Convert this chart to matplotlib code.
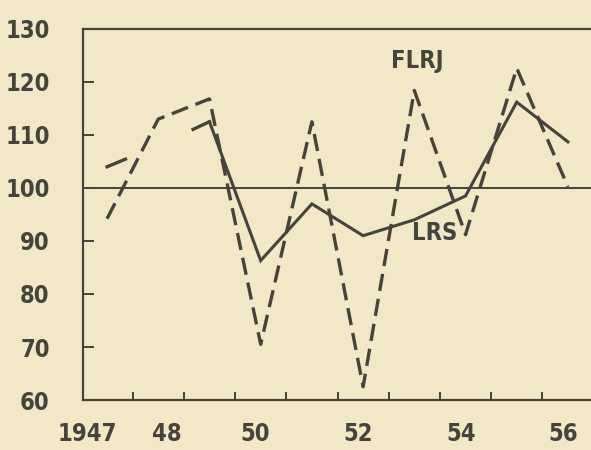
import numpy as np
import matplotlib
matplotlib.use("Agg")
import matplotlib.pyplot as plt
from matplotlib import font_manager

# values (index, basis = 100)
years = [1947, 1948, 1949, 1950, 1951, 1952, 1953, 1954, 1955, 1956]
flrj = [94.2, 113.0, 116.8, 70.5, 112.5, 62.5, 118.4, 91.2, 122.6, 100.2]
lrs = [104.0, 108.0, 112.5, 86.3, 97.0, 91.0, 94.0, 98.5, 116.2, 108.7]

ytick_vals = [60, 70, 80, 90, 100, 110, 120, 130]
xlabel_pos = [1946.62, 1948.17, 1949.9, 1951.9, 1953.92, 1955.9]
xlabel_txt = ["1947", "48", "50", "52", "54", "56"]

bg = "#f2e7c7"
ink = "#45443c"

fp = font_manager.FontProperties(family="DejaVu Sans", stretch="condensed",
                                 weight="bold", size=17)

fig = plt.figure(figsize=(5.91, 4.5), dpi=100, facecolor=bg)
ax = fig.add_axes([0.1404, 0.1111, 0.8596, 0.8245])
ax.set_facecolor(bg)

ax.set_xlim(1946.53, 1956.45)
ax.set_ylim(60, 130)

# reference line at 100
ax.axhline(100, color=ink, lw=1.4, zorder=1)

# FLRJ dashed
ax.plot(years, flrj, color=ink, lw=2.4, dashes=(5.2, 2.4), zorder=3)

# LRS solid from 1949, only stubs for 1947-1949 (gap in the source)
ax.plot(years[2:], lrs[2:], color=ink, lw=2.2, solid_joinstyle="miter", zorder=3)
sx1 = np.linspace(1947, 1947.36, 5)
ax.plot(sx1, np.interp(sx1, years, lrs), color=ink, lw=2.4, zorder=3)
sx2 = np.linspace(1948.68, 1949, 5)
ax.plot(sx2, np.interp(sx2, years, lrs), color=ink, lw=2.4, zorder=3)

ax.text(1953.05, 124.0, "FLRJ", color=ink, fontproperties=fp, ha="center", va="center")
ax.text(1953.4, 91.5, "LRS", color=ink, fontproperties=fp, ha="center", va="center")

for s in ["left", "bottom", "top"]:
    ax.spines[s].set_color(ink)
    ax.spines[s].set_linewidth(1.6)
ax.spines["right"].set_visible(False)

ax.set_yticks(ytick_vals)
ax.set_yticklabels([str(v) for v in ytick_vals], fontproperties=fp)
ax.tick_params(axis="y", direction="in", length=8, width=1.4, color=ink,
               labelcolor=ink, pad=24)
ax.set_xticks(np.arange(1947.5, 1956, 1.0))
ax.set_xticklabels([])
ax.tick_params(axis="x", which="major", direction="in", length=6, width=1.4, color=ink)
ax.set_xticks(xlabel_pos, minor=True)
ax.set_xticklabels(xlabel_txt, minor=True, fontproperties=fp)
ax.tick_params(axis="x", which="minor", length=0, labelcolor=ink, pad=16)

fig.savefig("out.png", dpi=100, facecolor=bg)
